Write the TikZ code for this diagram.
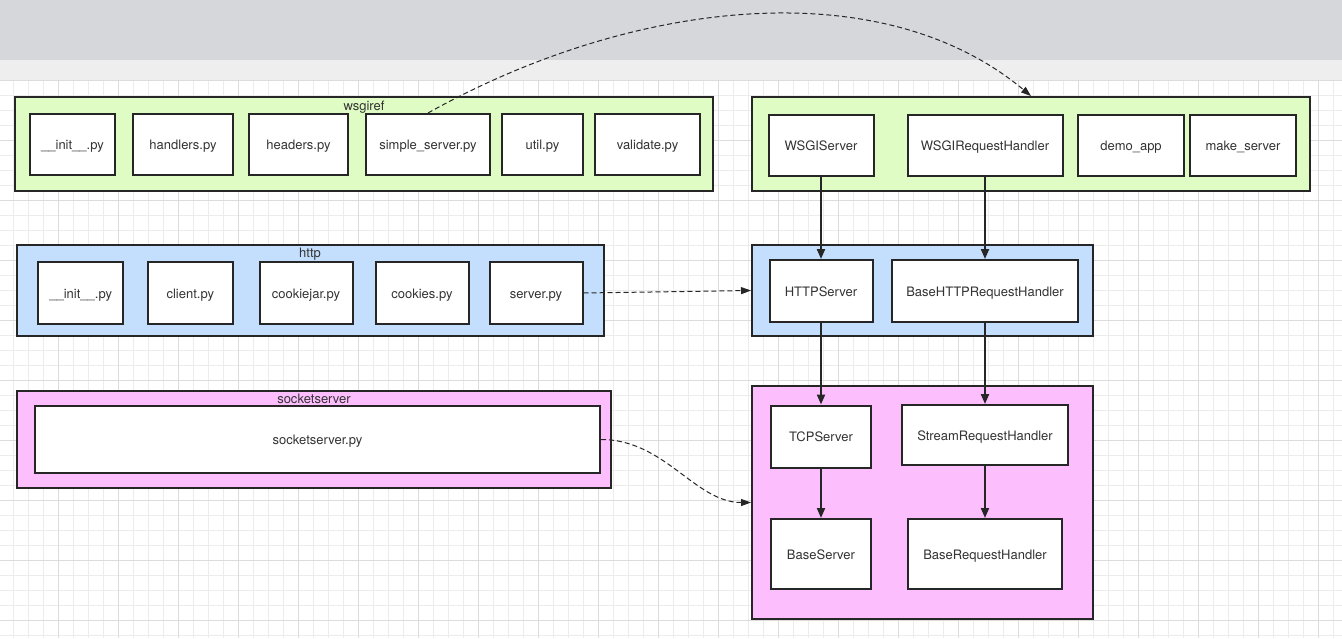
\documentclass[tikz,border=0pt]{standalone}
\usepackage{fontspec}
\setmainfont{TeX Gyre Heros}
\usepackage{xcolor}
\usetikzlibrary{arrows.meta}
\definecolor{bandgrey}{HTML}{D6D7DB}
\definecolor{bandlight}{HTML}{EEEEEE}
\definecolor{gridminor}{HTML}{ECECEC}
\definecolor{gridmajor}{HTML}{DCDCDC}
\definecolor{wsgfill}{HTML}{DFFCC4}
\definecolor{httpfill}{HTML}{C4DFFD}
\definecolor{sockfill}{HTML}{FDBEFD}
\definecolor{ink}{HTML}{262626}
\definecolor{txt}{HTML}{333333}

\begin{document}
\begin{tikzpicture}[x=1pt,y=-1pt,
  group/.style={draw=ink,line width=2pt,inner sep=0pt},
  file/.style={draw=ink,line width=2pt,fill=white,inner sep=0pt,
               text height=10.5pt,text depth=0pt,
               minimum height=61pt,font=\fontsize{13}{15}\selectfont,text=txt},
  tag/.style={anchor=base,inner sep=0pt,font=\fontsize{13}{15}\selectfont,text=txt},
  flow/.style={-{Triangle[length=10pt,width=8pt]},line width=2pt,draw=ink},
  ref/.style={-{Triangle[length=10pt,width=7pt]},line width=1pt,draw=ink,
              dash pattern=on 5pt off 3pt}
]
\useasboundingbox (0,0) rectangle (1342,638);
% backdrop
\fill[white] (0,0) rectangle (1342,638);
\fill[bandgrey] (0,0) rectangle (1342,60);
\fill[bandlight] (0,60) rectangle (1342,80);
\foreach \x in {13.6,28.6,...,1342} \draw[gridminor,line width=1pt] (\x,80) -- (\x,638);
\foreach \y in {95,110,...,638} \draw[gridminor,line width=1pt] (0,\y) -- (1342,\y);
\foreach \x in {58.6,118.6,...,1342} \draw[gridmajor,line width=1pt] (\x,80) -- (\x,638);
\foreach \y in {80,140,...,638} \draw[gridmajor,line width=1pt] (0,\y) -- (1342,\y);

% packages
\node[group,fill=wsgfill,minimum width=698pt,minimum height=94pt] (wsg) at (364,144) {};
\node[group,fill=wsgfill,minimum width=558pt,minimum height=94pt] (wsgapi) at (1031,144) {};
\node[group,fill=httpfill,minimum width=587pt,minimum height=91pt] (htp) at (310,290.5) {};
\node[group,fill=httpfill,minimum width=341pt,minimum height=91pt] (htpapi) at (922.5,290.5) {};
\node[group,fill=sockfill,minimum width=594pt,minimum height=97pt] (sock) at (314,439.5) {};
\node[group,fill=sockfill,minimum width=341pt,minimum height=233pt] (sockapi) at (922.5,502.5) {};
\node[tag] at (364,110.5) {wsgiref};
\node[tag] at (310,257.5) {http};
\node[tag] at (314,403.5) {socketserver};

% wsgiref
\node[file,minimum width=85pt] (winit) at (72.5,144.5) {\_\_init\_\_.py};
\node[file,minimum width=100pt] (whandlers) at (183,144.5) {handlers.py};
\node[file,minimum width=99pt] (wheaders) at (298.5,144.5) {headers.py};
\node[file,minimum width=124pt] (wsimple) at (428,144.5) {simple\_server.py};
\node[file,minimum width=81pt] (wutil) at (542.5,144.5) {util.py};
\node[file,minimum width=105pt] (wvalidate) at (647.5,144.5) {validate.py};
\node[file,minimum width=105pt] (wsgiserver) at (821,145) {WSGIServer};
\node[file,minimum width=155pt] (wsgihandler) at (985,145) {WSGIRequestHandler};
\node[file,minimum width=106pt] (demoapp) at (1131,145) {demo\_app};
\node[file,minimum width=106pt] (makeserver) at (1243,145) {make\_server};

% http
\node[file,minimum width=85pt,minimum height=62pt] (hinit) at (80.7,293) {\_\_init\_\_.py};
\node[file,minimum width=85pt,minimum height=62pt] (hclient) at (190.3,293) {client.py};
\node[file,minimum width=93pt,minimum height=62pt] (hcookiejar) at (306,293) {cookiejar.py};
\node[file,minimum width=93pt,minimum height=62pt] (hcookies) at (422,293) {cookies.py};
\node[file,minimum width=93pt,minimum height=62pt] (hserver) at (536,293) {server.py};
\node[file,minimum width=103pt,minimum height=62pt] (httpserver) at (821,291) {HTTPServer};
\node[file,minimum width=186pt,minimum height=62pt] (httphandler) at (985,291) {BaseHTTPRequestHandler};

% socketserver
\node[file,minimum width=565pt,minimum height=67pt] (sockpy) at (317.5,439.5) {socketserver.py};
\node[file,minimum width=100pt,minimum height=62pt] (tcpserver) at (821,436.5) {TCPServer};
\node[file,minimum width=166pt,minimum height=60pt] (streamhandler) at (985,435) {StreamRequestHandler};
\node[file,minimum width=100pt,minimum height=70pt] (baseserver) at (821,554) {BaseServer};
\node[file,minimum width=154pt,minimum height=70pt] (basehandler) at (985,554) {BaseRequestHandler};

% inheritance
\draw[flow] (wsgiserver) -- (httpserver);
\draw[flow] (wsgihandler) -- (httphandler);
\draw[flow] (httpserver) -- (tcpserver);
\draw[flow] (httphandler) -- (streamhandler);
\draw[flow] (tcpserver) -- (baseserver);
\draw[flow] (streamhandler) -- (basehandler);

% module -> contents
\draw[ref] (wsimple.north) .. controls (630,0) and (880,-30) .. (wsgapi.north);
\draw[ref] (hserver.east) -- (htpapi.west);
\draw[ref] (sockpy.east) .. controls (665,439.5) and (695,502.5) .. (sockapi.west);
\end{tikzpicture}
\end{document}
